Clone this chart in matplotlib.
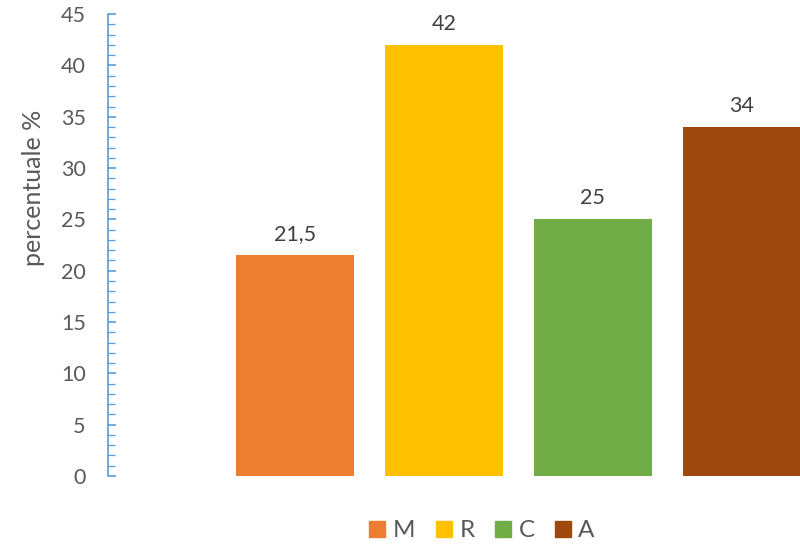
import matplotlib.pyplot as plt
from matplotlib.lines import Line2D
from matplotlib.ticker import MultipleLocator

categories = ["M", "R", "C", "A"]
values = [21.5, 42, 25, 34]
value_labels = ["21,5", "42", "25", "34"]
colors = ["#ED7D31", "#FFC000", "#70AD47", "#9E480E"]

TEXT = "#595959"
AXIS = "#5B9BD5"
plt.rcParams["font.family"] = ["Lato", "DejaVu Sans"]

fig = plt.figure(figsize=(8, 5.44), dpi=100)
ax = fig.add_axes([0.135, 0.125, 0.865, 0.849])

x = range(len(categories))
ax.bar(x, values, width=0.79, color=colors, zorder=2)
for xi, v, lab in zip(x, values, value_labels):
    ax.annotate(lab, (xi, v), xytext=(0, 11), textcoords="offset points",
                ha="center", va="baseline", fontsize=15.5, color="#404040")

ax.set_xlim(-1.255, 3.39)
ax.set_ylim(0, 45)
ax.yaxis.set_major_locator(MultipleLocator(5))
ax.yaxis.set_minor_locator(MultipleLocator(1))
ax.tick_params(axis="y", which="both", direction="in", color=AXIS,
               labelcolor=TEXT, labelsize=15.5, pad=16)
ax.tick_params(axis="y", which="major", length=5.5, width=1.2)
ax.tick_params(axis="y", which="minor", length=5, width=0.9)
ax.set_xticks([])
for side in ["top", "right", "bottom"]:
    ax.spines[side].set_visible(False)
ax.spines["left"].set_color(AXIS)
ax.spines["left"].set_linewidth(1.2)

fig.text(0.042, 1 - 188 / 544, "percentuale %", rotation=90, ha="center",
         va="center", fontsize=18, color=TEXT)

handles = [Line2D([], [], marker="s", linestyle="none", markersize=12,
                  markerfacecolor=c, markeredgecolor=c) for c in colors]
fig.legend(handles, categories, loc="center", bbox_to_anchor=(0.6, 0.024),
           ncol=4, frameon=False, fontsize=17.5, labelcolor=TEXT,
           handletextpad=0.15, columnspacing=0.65, handlelength=1.0)

fig.savefig("out.png", dpi=100)
